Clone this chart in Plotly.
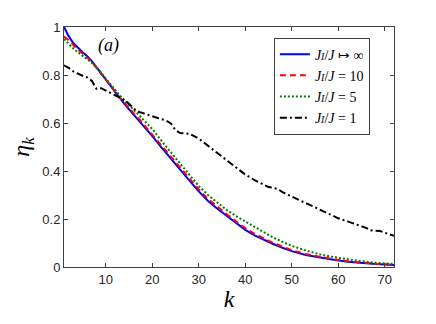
import plotly.graph_objects as go

# valeurs
k = [1, 2, 3, 4, 5, 6, 7, 8, 9, 10, 11, 12, 13, 14, 15, 16, 17, 18, 20, 22, 24, 26, 28,
     30, 32, 34, 36, 38, 40, 42, 44, 46, 48, 50, 53, 56, 59, 62, 65, 68, 72]

eta_inf = [1.00, 0.962, 0.933, 0.912, 0.895, 0.878, 0.858, 0.832, 0.806, 0.78, 0.755, 0.728,
           0.703, 0.68, 0.657, 0.635, 0.614, 0.592, 0.545, 0.497, 0.45, 0.405, 0.36,
           0.315, 0.275, 0.243, 0.213, 0.183, 0.155, 0.132, 0.113, 0.096, 0.08, 0.066,
           0.05, 0.039, 0.03, 0.022, 0.016, 0.012, 0.008]

eta_10 = [0.96, 0.945, 0.925, 0.905, 0.89, 0.873, 0.855, 0.83, 0.805, 0.78, 0.755, 0.73,
          0.705, 0.685, 0.66, 0.64, 0.62, 0.597, 0.552, 0.505, 0.458, 0.413, 0.368,
          0.323, 0.283, 0.25, 0.22, 0.19, 0.162, 0.138, 0.118, 0.1, 0.085, 0.07,
          0.054, 0.042, 0.032, 0.024, 0.018, 0.013, 0.009]

eta_5 = [0.95, 0.93, 0.91, 0.895, 0.88, 0.865, 0.85, 0.83, 0.81, 0.785, 0.76, 0.737,
         0.715, 0.695, 0.675, 0.655, 0.635, 0.615, 0.575, 0.525, 0.477, 0.43, 0.382,
         0.337, 0.3, 0.268, 0.238, 0.212, 0.19, 0.165, 0.143, 0.123, 0.105, 0.088,
         0.069, 0.053, 0.041, 0.031, 0.024, 0.018, 0.013]

k1 = [1, 2, 3, 4, 5, 6, 7, 8, 9, 10, 11, 12, 13, 14, 15, 16, 17, 18, 19, 20, 21, 22, 23,
      24, 25, 26, 27, 28, 29, 30, 31, 32, 33, 34, 35, 36, 38, 40, 42, 44, 45, 46, 47, 48,
      50, 52, 54, 56, 58, 60, 62, 64, 66, 67, 68, 69, 70, 72]
eta_1 = [0.84, 0.83, 0.815, 0.805, 0.797, 0.79, 0.775, 0.742, 0.745, 0.735, 0.726, 0.716,
         0.706, 0.695, 0.68, 0.66, 0.647, 0.641, 0.636, 0.628, 0.622, 0.615, 0.61, 0.598,
         0.57, 0.558, 0.557, 0.555, 0.545, 0.535, 0.52, 0.505, 0.49, 0.472, 0.458, 0.445,
         0.412, 0.385, 0.362, 0.342, 0.333, 0.33, 0.325, 0.312, 0.292, 0.275, 0.258, 0.24,
         0.222, 0.203, 0.19, 0.178, 0.163, 0.153, 0.153, 0.15, 0.143, 0.13]

ji = '<i>J<span style="font-size:10px">I</span></i>/<i>J</i>'
labels = [ji + ' ↦ ∞', ji + ' = 10', ji + ' = 5', ji + ' = 1']

fig = go.Figure()
fig.add_trace(go.Scatter(x=k, y=eta_inf, mode='lines', name=labels[0],
                         line=dict(color='#0000ff', width=2, dash='solid')))
fig.add_trace(go.Scatter(x=k, y=eta_10, mode='lines', name=labels[1],
                         line=dict(color='#ff0000', width=2, dash='6px,4px')))
fig.add_trace(go.Scatter(x=k, y=eta_5, mode='lines', name=labels[2],
                         line=dict(color='#008000', width=2, dash='2px,2px')))
fig.add_trace(go.Scatter(x=k1, y=eta_1, mode='lines', name=labels[3],
                         line=dict(color='#000000', width=2, dash='7px,3px,2px,3px')))

fig.add_annotation(text='<i>(a)</i>', xref='paper', yref='paper', x=0.135, y=0.922,
                   xanchor='center', yanchor='middle',
                   showarrow=False, font=dict(family='Liberation Serif', size=18, color='black'))

axis_style = dict(showline=True, linecolor='#404040', linewidth=1, mirror='ticks',
                  ticks='inside', ticklen=4, tickcolor='#404040', showgrid=False,
                  zeroline=False, tickfont=dict(family='Liberation Sans', size=13, color='#262626'))

fig.update_xaxes(range=[1, 72], tickvals=[10, 20, 30, 40, 50, 60, 70],
                 title=dict(text='<i>k</i>', font=dict(family='Liberation Serif', size=24, color='black'),
                            standoff=4), **axis_style)
fig.update_yaxes(range=[0, 1], tickvals=[0, 0.2, 0.4, 0.6, 0.8, 1],
                 ticktext=['0', '0.2', '0.4', '0.6', '0.8', '1'],
                 title=dict(text='<i>η<sub>k</sub></i>', font=dict(family='Liberation Serif', size=24, color='black'),
                            standoff=6), **axis_style)

# la page ajoute 8 px de marge au corps, d'où le décalage
fig.update_layout(width=436, height=324, plot_bgcolor='white', paper_bgcolor='white',
                  margin=dict(l=52, r=50, t=16, b=65),
                  legend=dict(x=0.636, y=0.956, xanchor='left', yanchor='top',
                              bgcolor='white', bordercolor='#404040', borderwidth=1,
                              font=dict(family='Liberation Serif', size=14, color='black'),
                              tracegroupgap=0, itemwidth=30))

fig.write_html("out.html")
